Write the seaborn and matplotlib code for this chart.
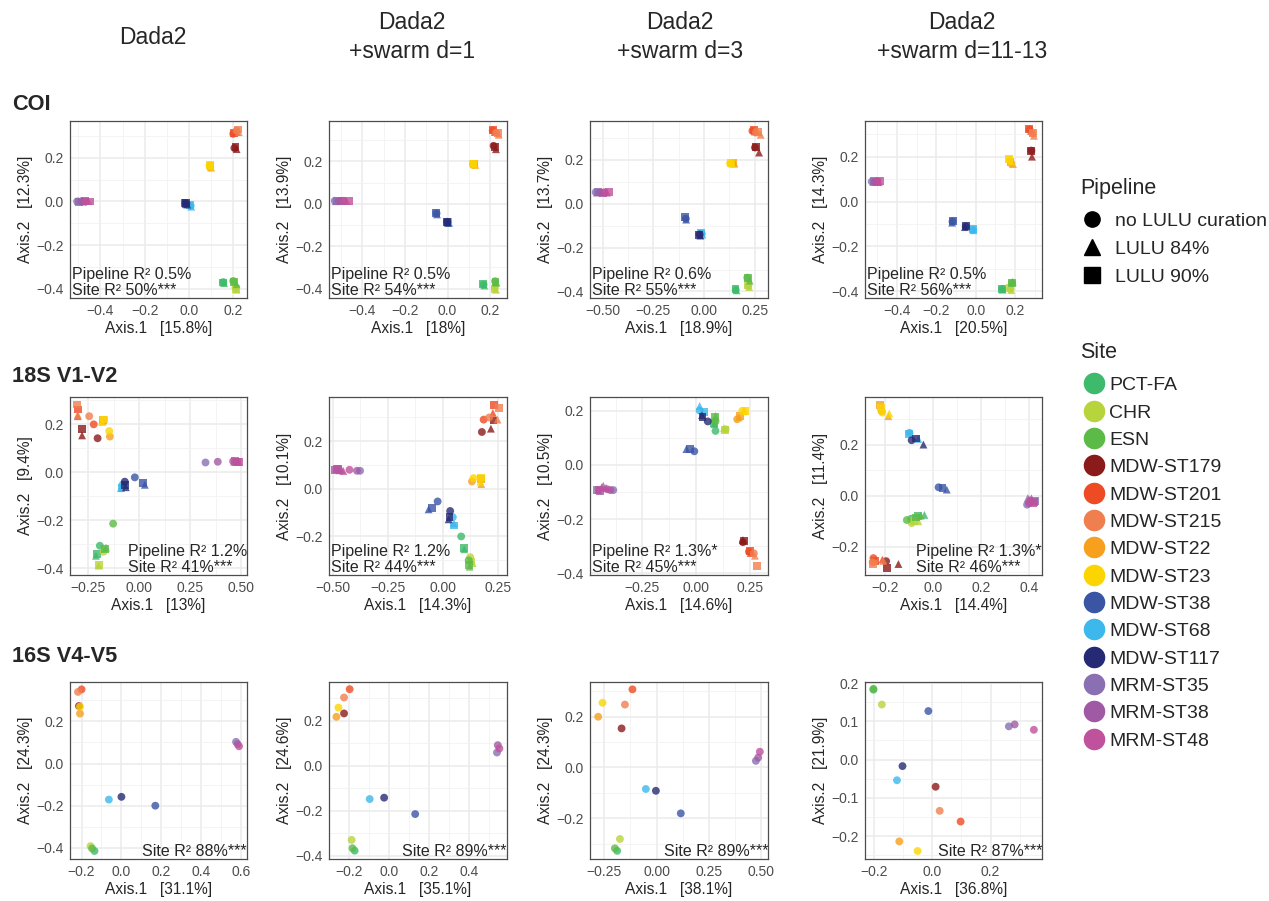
import numpy as np
import pandas as pd
import seaborn as sns
import matplotlib.pyplot as plt
from matplotlib.lines import Line2D
from matplotlib.ticker import MultipleLocator, FuncFormatter

sites = ['PCT-FA', 'CHR', 'ESN', 'MDW-ST179', 'MDW-ST201', 'MDW-ST215', 'MDW-ST22',
         'MDW-ST23', 'MDW-ST38', 'MDW-ST68', 'MDW-ST117', 'MRM-ST35', 'MRM-ST38', 'MRM-ST48']
site_colors = ['#3dba6b', '#b8d43c', '#5bbb46', '#8b1a1a', '#ee4a23', '#f07f4f', '#f6a01d',
               '#fcd500', '#3b55a5', '#3cb8ec', '#262a74', '#8a70b2', '#a05aa5', '#c0519c']
pipelines = ['no LULU curation', 'LULU 84%', 'LULU 90%']
pipeline_markers = ['o', '^', 's']

col_titles = ['Dada2', 'Dada2\n+swarm d=1', 'Dada2\n+swarm d=3', 'Dada2\n+swarm d=11-13']
row_titles = ['COI', '18S V1-V2', '16S V4-V5']

# % variance explained by the two axes
axis1_pct = [['15.8', '18', '18.9', '20.5'],
             ['13', '14.3', '14.6', '14.4'],
             ['31.1', '35.1', '38.1', '36.8']]
axis2_pct = [['12.3', '13.9', '13.7', '14.3'],
             ['9.4', '10.1', '10.5', '11.4'],
             ['24.3', '24.6', '24.3', '21.9']]

# adonis results
pipeline_r2 = [['0.5%', '0.5%', '0.6%', '0.5%'],
               ['1.2%', '1.2%', '1.3%*', '1.3%*'],
               [None, None, None, None]]
site_r2 = [['50%***', '54%***', '55%***', '56%***'],
           ['41%***', '44%***', '45%***', '46%***'],
           ['88%***', '89%***', '89%***', '87%***']]

# ---- COI, one row per site: (no LULU, LULU 84%, LULU 90%)
coi_dada2_x = [0.155, 0.158, 0.152,  0.210, 0.215, 0.212,  0.200, 0.215, 0.205,
               0.205, 0.215, 0.210,  0.200, 0.215, 0.205,  0.215, 0.225, 0.220,
               0.095, 0.100, 0.097,  0.093, 0.098, 0.095,  -0.018, -0.015, -0.020,
               0.008, 0.010, 0.006,  -0.012, -0.008, -0.014,  -0.505, -0.500, -0.495,
               -0.485, -0.478, -0.470,  -0.465, -0.455, -0.448]
coi_dada2_y = [-0.370, -0.375, -0.372,  -0.395, -0.405, -0.400,  -0.365, -0.380, -0.370,
               0.245, 0.240, 0.248,  0.310, 0.318, 0.312,  0.325, 0.318, 0.330,
               0.158, 0.155, 0.162,  0.165, 0.160, 0.168,  -0.008, -0.012, -0.006,
               -0.020, -0.024, -0.018,  -0.010, -0.014, -0.008,  0.000, 0.002, -0.001,
               0.001, -0.001, 0.002,  0.000, 0.002, 0.000]

coi_d1_x = [0.169, 0.172, 0.168,  0.222, 0.228, 0.220,  0.223, 0.230, 0.225,
            0.216, 0.227, 0.222,  0.212, 0.222, 0.215,  0.228, 0.240, 0.235,
            0.122, 0.130, 0.125,  0.118, 0.126, 0.120,  -0.052, -0.050, -0.054,
            0.003, 0.008, 0.001,  -0.002, 0.002, -0.004,  -0.530, -0.525, -0.520,
            -0.510, -0.500, -0.495,  -0.490, -0.475, -0.465]
coi_d1_y = [-0.381, -0.385, -0.378,  -0.395, -0.405, -0.400,  -0.365, -0.372, -0.368,
            0.273, 0.257, 0.268,  0.345, 0.338, 0.348,  0.335, 0.325, 0.333,
            0.185, 0.183, 0.188,  0.187, 0.185, 0.190,  -0.045, -0.050, -0.043,
            -0.088, -0.090, -0.085,  -0.085, -0.090, -0.084,  0.014, 0.012, 0.015,
            0.013, 0.015, 0.012,  0.014, 0.013, 0.015]

coi_d3_x = [0.156, 0.160, 0.155,  0.218, 0.222, 0.216,  0.213, 0.225, 0.218,
            0.251, 0.271, 0.255,  0.238, 0.250, 0.245,  0.255, 0.279, 0.265,
            0.140, 0.150, 0.145,  0.128, 0.138, 0.132,  -0.090, -0.088, -0.092,
            -0.011, -0.008, -0.013,  -0.022, -0.018, -0.025,  -0.534, -0.528, -0.522,
            -0.515, -0.505, -0.498,  -0.490, -0.478, -0.470]
coi_d3_y = [-0.393, -0.395, -0.390,  -0.375, -0.380, -0.372,  -0.337, -0.351, -0.340,
            0.257, 0.234, 0.260,  0.333, 0.330, 0.336,  0.325, 0.315, 0.328,
            0.185, 0.183, 0.187,  0.185, 0.183, 0.187,  -0.068, -0.072, -0.062,
            -0.136, -0.140, -0.133,  -0.140, -0.145, -0.142,  0.053, 0.051, 0.054,
            0.052, 0.054, 0.051,  0.053, 0.051, 0.053]

coi_d11_x = [0.133, 0.136, 0.131,  0.177, 0.180, 0.175,  0.184, 0.188, 0.182,
             0.282, 0.285, 0.280,  0.273, 0.280, 0.270,  0.287, 0.295, 0.290,
             0.180, 0.189, 0.176,  0.172, 0.180, 0.170,  -0.118, -0.120, -0.116,
             -0.014, -0.012, -0.016,  -0.051, -0.055, -0.050,  -0.528, -0.520, -0.515,
             -0.512, -0.505, -0.500,  -0.500, -0.492, -0.486]
coi_d11_y = [-0.390, -0.393, -0.388,  -0.390, -0.395, -0.385,  -0.362, -0.358, -0.365,
             0.227, 0.200, 0.225,  0.321, 0.315, 0.325,  0.304, 0.293, 0.306,
             0.170, 0.167, 0.175,  0.185, 0.178, 0.188,  -0.089, -0.094, -0.086,
             -0.126, -0.128, -0.124,  -0.111, -0.114, -0.108,  0.089, 0.087, 0.090,
             0.088, 0.090, 0.086,  0.089, 0.087, 0.090]

# ---- 18S V1-V2
s18_dada2_x = [-0.192, -0.211, -0.205,  -0.174, -0.198, -0.195,  -0.127, -0.162, -0.165,
               -0.203, -0.279, -0.279,  -0.222, -0.300, -0.297,  -0.244, -0.300, -0.304,
               -0.143, -0.178, -0.175,  -0.146, -0.182, -0.172,  -0.021, 0.028, 0.021,
               -0.081, -0.089, -0.086,  -0.070, -0.065, -0.070,  0.325, 0.465, 0.470,
               0.385, 0.475, 0.480,  0.460, 0.485, 0.487]
s18_dada2_y = [-0.306, -0.348, -0.340,  -0.331, -0.389, -0.385,  -0.214, -0.314, -0.318,
               0.142, 0.154, 0.182,  0.200, 0.234, 0.262,  0.234, 0.240, 0.283,
               0.149, 0.212, 0.218,  0.172, 0.210, 0.220,  -0.021, -0.052, -0.044,
               -0.052, -0.066, -0.066,  -0.039, -0.062, -0.052,  0.041, 0.044, 0.046,
               0.044, 0.043, 0.045,  0.046, 0.044, 0.042]

s18_d1_x = [0.083, 0.097, 0.095,  0.124, 0.135, 0.130,  0.117, 0.121, 0.118,
            0.177, 0.218, 0.230,  0.185, 0.227, 0.233,  0.210, 0.248, 0.255,
            0.132, 0.174, 0.173,  0.139, 0.170, 0.173,  -0.024, -0.065, -0.050,
            0.045, 0.050, 0.052,  0.033, 0.026, 0.030,  -0.376, -0.470, -0.480,
            -0.390, -0.460, -0.489,  -0.424, -0.452, -0.475]
s18_d1_y = [-0.200, -0.254, -0.250,  -0.287, -0.312, -0.305,  -0.300, -0.327, -0.320,
            0.239, 0.253, 0.287,  0.291, 0.319, 0.354,  0.300, 0.291, 0.340,
            0.031, 0.020, 0.040,  0.045, 0.030, 0.048,  -0.053, -0.086, -0.081,
            -0.119, -0.145, -0.154,  -0.093, -0.128, -0.120,  0.076, 0.078, 0.082,
            0.076, 0.080, 0.078,  0.080, 0.075, 0.085]

s18_d3_x = [0.091, 0.085, 0.083,  0.138, 0.130, 0.135,  0.091, 0.091, 0.088,
            0.219, 0.219, 0.222,  0.247, 0.255, 0.250,  0.270, 0.275, 0.286,
            0.192, 0.200, 0.205,  0.216, 0.225, 0.231,  -0.008, -0.045, -0.030,
            0.017, 0.017, 0.039,  0.055, 0.028, 0.030,  -0.386, -0.433, -0.464,
            -0.400, -0.420, -0.450,  -0.415, -0.440, -0.455]
s18_d3_y = [0.125, 0.150, 0.155,  0.131, 0.135, 0.128,  0.160, 0.180, 0.175,
            -0.285, -0.277, -0.282,  -0.320, -0.325, -0.318,  -0.326, -0.335, -0.372,
            0.168, 0.175, 0.180,  0.199, 0.197, 0.199,  0.050, 0.058, 0.058,
            0.200, 0.217, 0.196,  0.160, 0.183, 0.175,  -0.093, -0.077, -0.093,
            -0.093, -0.085, -0.095,  -0.090, -0.082, -0.093]

s18_d11_x = [-0.090, -0.035, -0.060,  -0.088, -0.060, -0.080,  -0.108, -0.050, -0.070,
             -0.194, -0.143, -0.192,  -0.247, -0.210, -0.240,  -0.250, -0.205, -0.250,
             -0.213, -0.185, -0.219,  -0.210, -0.181, -0.215,  0.024, 0.058, 0.040,
             -0.097, -0.060, -0.100,  -0.088, -0.039, -0.069,  0.392, 0.395, 0.426,
             0.400, 0.410, 0.420,  0.405, 0.400, 0.415]
s18_d11_y = [-0.090, -0.075, -0.080,  -0.107, -0.100, -0.100,  -0.095, -0.078, -0.085,
             -0.256, -0.267, -0.284,  -0.244, -0.250, -0.255,  -0.260, -0.255, -0.267,
             0.331, 0.311, 0.354,  0.325, 0.322, 0.345,  0.033, 0.024, 0.030,
             0.246, 0.222, 0.240,  0.217, 0.200, 0.224,  -0.035, -0.009, -0.020,
             -0.030, -0.010, -0.025,  -0.020, -0.015, -0.030]

# ---- 16S V4-V5, one point per site
s16_dada2_x = [-0.135, -0.155, -0.147, -0.213, -0.200, -0.218, -0.208, -0.208,
               0.170, -0.063, 0.000, 0.575, 0.583, 0.590]
s16_dada2_y = [-0.415, -0.392, -0.403, 0.273, 0.352, 0.340, 0.237, 0.270,
               -0.200, -0.171, -0.158, 0.103, 0.092, 0.082]
s16_d1_x = [-0.172, -0.187, -0.183, -0.225, -0.197, -0.225, -0.263, -0.253,
            0.130, -0.097, -0.025, 0.538, 0.542, 0.550]
s16_d1_y = [-0.378, -0.330, -0.367, 0.233, 0.341, 0.304, 0.218, 0.259,
            -0.215, -0.148, -0.142, 0.059, 0.092, 0.077]
s16_d3_x = [-0.188, -0.175, -0.199, -0.167, -0.115, -0.151, -0.279, -0.258,
            0.116, -0.051, -0.003, 0.475, 0.486, 0.494]
s16_d3_y = [-0.329, -0.282, -0.319, 0.154, 0.308, 0.248, 0.200, 0.255,
            -0.181, -0.085, -0.092, 0.026, 0.039, 0.062]
s16_d11_x = [-0.203, -0.174, -0.203, 0.011, 0.097, 0.025, -0.114, -0.051,
             -0.014, -0.122, -0.103, 0.263, 0.283, 0.349]
s16_d11_y = [0.183, 0.144, 0.185, -0.071, -0.162, -0.134, -0.214, -0.239,
             0.127, -0.054, -0.017, 0.087, 0.092, 0.078]

panel_x = [[coi_dada2_x, coi_d1_x, coi_d3_x, coi_d11_x],
           [s18_dada2_x, s18_d1_x, s18_d3_x, s18_d11_x],
           [s16_dada2_x, s16_d1_x, s16_d3_x, s16_d11_x]]
panel_y = [[coi_dada2_y, coi_d1_y, coi_d3_y, coi_d11_y],
           [s18_dada2_y, s18_d1_y, s18_d3_y, s18_d11_y],
           [s16_dada2_y, s16_d1_y, s16_d3_y, s16_d11_y]]

# axis ranges and tick steps
xlims = [[(-0.537, 0.262), (-0.557, 0.279), (-0.562, 0.315), (-0.562, 0.336)],
         [(-0.338, 0.528), (-0.517, 0.291), (-0.495, 0.336), (-0.282, 0.454)],
         [(-0.258, 0.630), (-0.300, 0.588), (-0.318, 0.533), (-0.232, 0.377)]]
ylims = [[(-0.443, 0.369), (-0.444, 0.390), (-0.430, 0.378), (-0.430, 0.359)],
         [(-0.428, 0.314), (-0.362, 0.386), (-0.406, 0.250), (-0.310, 0.386)],
         [(-0.453, 0.387), (-0.415, 0.373), (-0.361, 0.337), (-0.260, 0.203)]]
xsteps = [[0.2, 0.2, 0.25, 0.2], [0.25, 0.25, 0.25, 0.2], [0.2, 0.2, 0.25, 0.2]]
ysteps = [[0.2, 0.2, 0.2, 0.2], [0.2, 0.2, 0.2, 0.2], [0.2, 0.2, 0.2, 0.1]]
# where the stats text goes: 'l' bottom-left, 'r' bottom-right
stat_side = [['l', 'l', 'l', 'l'], ['r', 'l', 'l', 'r'], ['r', 'r', 'r', 'r']]

sns.set_style('white')
plt.rcParams['font.family'] = ['Liberation Sans', 'DejaVu Sans']

W, H = 1269, 901
fig = plt.figure(figsize=(W / 100, H / 100), dpi=100)

col_edges = [(70, 247), (329, 507), (590, 768), (865, 1042)]
row_edges = [(121, 298), (397, 575), (682, 859)]

palette = dict(zip(sites, site_colors))
markers = dict(zip(pipelines, pipeline_markers))


def tick_fmt(step):
    nd = 2 if step == 0.25 else 1
    return FuncFormatter(lambda v, p: f'{v:.{nd}f}'.replace('-', '\u2212'))


for r in range(3):
    n_pipe = 1 if r == 2 else 3
    for c in range(4):
        (l, rr), (t, b) = col_edges[c], row_edges[r]
        ax = fig.add_axes([l / W, 1 - b / H, (rr - l) / W, (b - t) / H])
        df = pd.DataFrame({
            'x': panel_x[r][c],
            'y': panel_y[r][c],
            'site': np.repeat(sites, n_pipe),
            'pipeline': np.tile(pipelines[:n_pipe], len(sites)),
        })
        sns.scatterplot(data=df, x='x', y='y', hue='site', style='pipeline',
                        hue_order=sites, style_order=pipelines[:n_pipe],
                        palette=palette, markers=markers, s=32, alpha=0.8,
                        linewidth=0, legend=False, ax=ax, zorder=3)
        ax.set_xlim(*xlims[r][c])
        ax.set_ylim(*ylims[r][c])
        ax.xaxis.set_major_locator(MultipleLocator(xsteps[r][c]))
        ax.xaxis.set_minor_locator(MultipleLocator(xsteps[r][c] / 2))
        ax.yaxis.set_major_locator(MultipleLocator(ysteps[r][c]))
        ax.yaxis.set_minor_locator(MultipleLocator(ysteps[r][c] / 2))
        ax.xaxis.set_major_formatter(tick_fmt(xsteps[r][c]))
        ax.yaxis.set_major_formatter(tick_fmt(ysteps[r][c]))
        ax.grid(True, which='major', color='#EBEBEB', lw=1.1, zorder=0)
        ax.grid(True, which='minor', color='#F2F2F2', lw=0.6, zorder=0)
        ax.set_axisbelow(True)
        for sp in ax.spines.values():
            sp.set_color('#4D4D4D')
            sp.set_linewidth(0.9)
        ax.tick_params(which='major', length=3, width=0.7, color='#333333',
                       labelsize=10, labelcolor='#4D4D4D', pad=1.5)
        ax.tick_params(which='minor', length=0)
        ax.set_xlabel(f'Axis.1   [{axis1_pct[r][c]}%]', fontsize=11.2, labelpad=2)
        ax.set_ylabel(f'Axis.2   [{axis2_pct[r][c]}%]', fontsize=11.2, labelpad=2)

        if pipeline_r2[r][c] is None:
            txt = f'Site R\u00b2 {site_r2[r][c]}'
        else:
            txt = f'Pipeline R\u00b2 {pipeline_r2[r][c]}\nSite R\u00b2 {site_r2[r][c]}'
        if stat_side[r][c] == 'l':
            ax.text(0.01, 0.0, txt, transform=ax.transAxes, ha='left', va='bottom',
                    fontsize=11.5, linespacing=1.05, zorder=5)
        else:
            ax.text(1.0, 0.0, txt, transform=ax.transAxes, ha='right', va='bottom',
                    multialignment='left', fontsize=11.5, linespacing=1.05, zorder=5)

# column and row headers
col_centers = [153, 412, 680, 962]
for c, title in enumerate(col_titles):
    fig.text(col_centers[c] / W, 1 - 37 / H, title, ha='center', va='center',
             fontsize=16.5, linespacing=1.3)
row_label_y = [105, 377, 657]
for r, title in enumerate(row_titles):
    fig.text(12 / W, 1 - row_label_y[r] / H, title, ha='left', va='center',
             fontsize=15.7, fontweight='bold')

# legends
pipe_handles = [Line2D([], [], marker=m, color='black', ls='none', markersize=11)
                for m in pipeline_markers]
leg1 = fig.legend(pipe_handles, pipelines, title='Pipeline', loc='upper left',
                  bbox_to_anchor=(1072 / W, 1 - 170 / H), frameon=False,
                  fontsize=14, title_fontsize=15.5, alignment='left',
                  handletextpad=0.55, labelspacing=0.52, handlelength=1.25,
                  borderaxespad=0)
leg1._legend_box.sep = 10
site_handles = [Line2D([], [], marker='o', color=col, ls='none', markersize=14.5)
                for col in site_colors]
leg2 = fig.legend(site_handles, sites, title='Site', loc='upper left',
                  bbox_to_anchor=(1072 / W, 1 - 334 / H), frameon=False,
                  fontsize=14, title_fontsize=15.5, alignment='left',
                  handletextpad=0.0, labelspacing=0.5, handlelength=1.5,
                  borderaxespad=0)
leg2._legend_box.sep = 10

fig.savefig('out.png', dpi=100)
